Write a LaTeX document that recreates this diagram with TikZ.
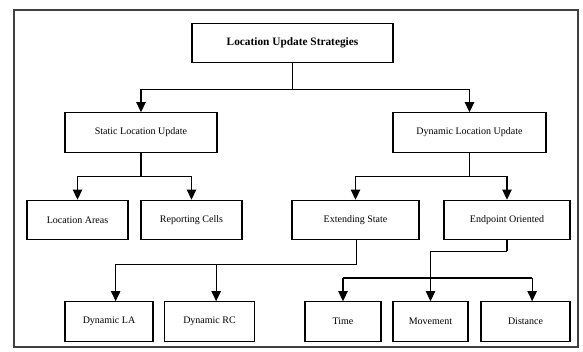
\documentclass[tikz,border=0pt]{standalone}
\usepackage{fontspec}
\setmainfont{Liberation Serif}
\usetikzlibrary{arrows.meta}
\tikzset{
  box/.style={draw,line width=0.9pt,minimum height=29.5pt,inner sep=0pt,font=\fontsize{7.5}{9}\selectfont},
  arr/.style={line width=0.8pt,-{Triangle[width=7pt,length=7.5pt]}},
  ln/.style={line width=0.8pt}
}
\begin{document}
\begin{tikzpicture}[x=0.75pt,y=-0.75pt]
\useasboundingbox (0,0) rectangle (583,352);
%frame
\draw[line width=1.1pt,black!75](14,10) rectangle (578,347);
%boxes
\node[box,minimum width=150.75pt,font=\fontsize{8.5}{10}\selectfont\bfseries](lus) at (292.5,43){Location Update Strategies};
\node[box,minimum width=114pt](slu) at (141,132.5){Static Location Update};
\node[box,minimum width=114.75pt](dlu) at (469.5,132.5){Dynamic Location Update};
\foreach \n/\x/\w/\t in {la/77.5/75.75/Location Areas,rc/191.5/75.75/Reporting Cells,es/355.5/95.25/Extending State,eo/507/94.5/Endpoint Oriented}
  {\node[box,minimum width=\w pt](\n) at (\x,220){\t};}
\foreach \n/\x/\w/\t in {dla/109/66/Dynamic LA,drc/209.5/67.5/Dynamic RC,tim/343/57/Time,mov/430.5/56.25/Movement,dis/525.5/66.75/Distance}
  {\node[box,minimum width=\w pt](\n) at (\x,321.5){\t};}
%level 1
\draw[ln](lus.south)--++(0,26)coordinate(j1);
\draw[arr](j1)-|(slu.north);
\draw[arr](j1)-|(dlu.north);
%level 2
\draw[ln](slu.south)--++(0,24)coordinate(j2);
\draw[arr](j2)-|(la.north);
\draw[arr](j2)-|(rc.north);
\draw[ln](dlu.south)--++(0,24)coordinate(j3);
\draw[arr](j3)-|(es.north);
\draw[arr](j3)-|(eo.north);
%level 3
\draw[ln]([xshift=0.4pt]es.south)--++(0,24.5)coordinate(j4);
\draw[arr](j4)-|([xshift=5pt]dla.north);
\draw[arr](j4)-|([xshift=5pt]drc.north);
\draw[ln](eo.south)--++(0,11)coordinate(j5);
\draw[arr](j5)-|(mov.north);
\coordinate(j6)at(tim.north|-0,278);
\coordinate(j7)at([xshift=5pt]dis.north);
\draw[ln](j6)--(j6-|j7);
\draw[arr](j6)--(tim.north);
\draw[arr](j6-|j7)--(j7);
\end{tikzpicture}
\end{document}
